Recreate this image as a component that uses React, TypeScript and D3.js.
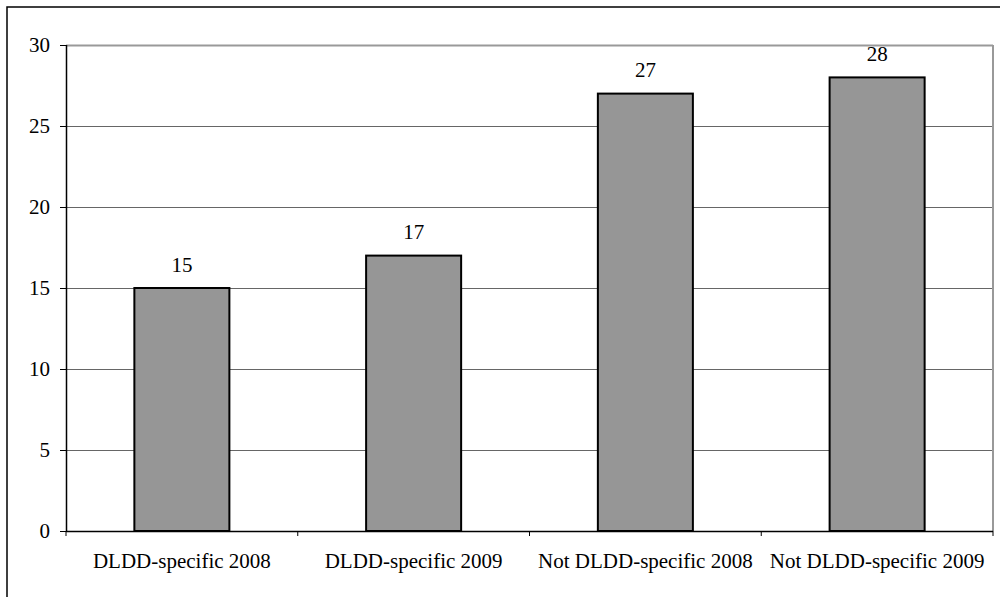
import React from "react";
import * as d3 from "d3";

const categories = [
  "DLDD-specific 2008",
  "DLDD-specific 2009",
  "Not DLDD-specific 2008",
  "Not DLDD-specific 2009",
];
const values = [15, 17, 27, 28];
const yTicks = [0, 5, 10, 15, 20, 25, 30];

const W = 1000;
const H = 597;
const plot = { left: 66, right: 993, top: 45, bottom: 531 };
const FONT = "Liberation Serif";

export default function App() {
  const x = d3
    .scaleBand<string>()
    .domain(categories)
    .range([plot.left, plot.right])
    .paddingInner(0.59)
    .paddingOuter(0.295);
  const y = d3.scaleLinear().domain([0, 30]).range([plot.bottom, plot.top]);
  const step = x.step();
  const boundaries = d3.range(categories.length + 1).map((i) => plot.left + i * step);
  const textStyle = { fontFamily: FONT };

  return (
    <svg
      width={W}
      height={H}
      style={{ position: "absolute", left: 0, top: 0, background: "#fff" }}
    >
      <rect x={0} y={0} width={W} height={H} fill="#fff" />
      {/* outer chart border */}
      <path d={`M7,${H} V7 H${W}`} fill="none" stroke="#000" strokeWidth={1.5} />

      {/* gridlines */}
      {yTicks.slice(1).map((t) => (
        <line
          key={t}
          x1={plot.left}
          x2={plot.right}
          y1={y(t) + 0.5}
          y2={y(t) + 0.5}
          stroke={t === 30 ? "#999999" : "#666666"}
          strokeWidth={t === 30 ? 2 : 1}
        />
      ))}
      {/* plot area right border */}
      <line x1={plot.right} x2={plot.right} y1={plot.top} y2={plot.bottom} stroke="#999999" strokeWidth={2} />

      {/* bars */}
      {categories.map((c, i) => (
        <rect
          key={c}
          x={x(c)}
          y={y(values[i])}
          width={x.bandwidth()}
          height={y(0) - y(values[i])}
          fill="#969696"
          stroke="#000"
          strokeWidth={2}
        />
      ))}

      {/* value labels */}
      {categories.map((c, i) => (
        <text
          key={c}
          x={(x(c) as number) + x.bandwidth() / 2}
          y={y(values[i]) - 16.5}
          textAnchor="middle"
          fontSize={21}
          fill="#000"
          style={textStyle}
        >
          {values[i]}
        </text>
      ))}

      {/* y axis */}
      <line x1={plot.left + 0.5} x2={plot.left + 0.5} y1={plot.top} y2={plot.bottom} stroke="#000" strokeWidth={1.5} />
      {yTicks.map((t) => (
        <g key={t}>
          <line x1={plot.left - 6} x2={plot.left} y1={y(t) + 0.5} y2={y(t) + 0.5} stroke="#000" strokeWidth={1} />
          <text x={50} y={y(t)} dy="0.33em" textAnchor="end" fontSize={21} fill="#000" style={textStyle}>
            {t}
          </text>
        </g>
      ))}

      {/* x axis */}
      <line x1={plot.left} x2={plot.right} y1={plot.bottom + 0.5} y2={plot.bottom + 0.5} stroke="#000" strokeWidth={1.5} />
      {boundaries.map((bx, i) => (
        <line key={i} x1={bx} x2={bx} y1={plot.bottom} y2={plot.bottom + 5} stroke="#000" strokeWidth={1} />
      ))}
      {categories.map((c) => (
        <text
          key={c}
          x={(x(c) as number) + x.bandwidth() / 2}
          y={568}
          textAnchor="middle"
          fontSize={21}
          fill="#000"
          style={textStyle}
        >
          {c}
        </text>
      ))}
    </svg>
  );
}
